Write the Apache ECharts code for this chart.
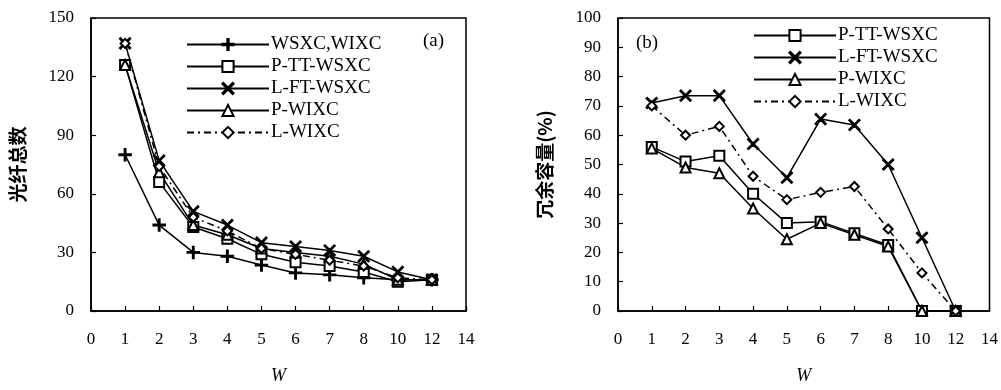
<!DOCTYPE html>
<html><head><meta charset="utf-8">
<script src="https://cdn.jsdelivr.net/npm/echarts@6/dist/echarts.min.js"></script>
<style>html,body{margin:0;padding:0;background:#fff}#c{width:1001px;height:390px}</style>
</head><body><div id="c"></div>
<script>
// ---- data ----
const xLabels = ['0','1','2','3','4','5','6','7','8','10','12','14'];
const wPoints = ['1','2','3','4','5','6','7','8','10','12'];
// panel (a): total number of fibers
const a_WSXC_WIXC = [80, 44, 30, 28, 23.5, 19.5, 18.5, 17, 16, 16];
const a_P_TT_WSXC = [126, 66, 43, 37, 29, 25, 23, 20, 15, 16];
const a_L_FT_WSXC = [137, 77, 51, 44, 35, 33, 31, 28, 20, 16];
const a_P_WIXC    = [126, 71, 44, 39, 32, 30, 28, 24, 16, 16];
const a_L_WIXC    = [137, 74, 48, 41, 32, 29, 26, 23, 17, 16];
// panel (b): redundant capacity (%)
const b_P_TT_WSXC = [56, 51, 53, 40, 30, 30.5, 26.5, 22.5, 0, 0];
const b_L_FT_WSXC = [71, 73.5, 73.5, 57, 45.5, 65.5, 63.5, 50, 25, 0];
const b_P_WIXC    = [55.5, 49, 47, 35, 24.5, 30, 26, 22, 0, 0];
const b_L_WIXC    = [70, 60, 63, 46, 38, 40.5, 42.5, 28, 13, 0];
const yTicksA = [0, 30, 60, 90, 120, 150];
const yTicksB = [0, 10, 20, 30, 40, 50, 60, 70, 80, 90, 100];

const SERIF = '"Liberation Serif","Times New Roman",serif';
const CJK = '"Noto Sans CJK SC",sans-serif';
const PLUS = 'path://M5.3,0 L6.7,0 L6.7,5.3 L12,5.3 L12,6.7 L6.7,6.7 L6.7,12 L5.3,12 L5.3,6.7 L0,6.7 L0,5.3 L5.3,5.3 Z';
const CROSS = 'path://M1,0 L6,5 L11,0 L12,1 L7,6 L12,11 L11,12 L6,7 L1,12 L0,11 L5,6 L0,1 Z';

const styles = {
  'WSXC,WIXC': {symbol: PLUS, size: 12, type: 'solid'},
  'P-TT-WSXC': {symbol: 'emptyRect', size: 10, type: 'solid'},
  'L-FT-WSXC': {symbol: CROSS, size: 11, type: 'solid'},
  'P-WIXC': {symbol: 'emptyTriangle', size: 10, type: 'solid'},
  'L-WIXC': {symbol: 'emptyDiamond', size: 9, type: [7, 4, 2, 4]}
};
function mk(name, vals, gi) {
  const s = styles[name];
  return {
    name, type: 'line', xAxisIndex: gi, yAxisIndex: gi,
    data: wPoints.map((w, i) => [w, vals[i]]),
    symbol: s.symbol, symbolSize: s.size,
    lineStyle: {color: '#000', width: 1.5, type: s.type},
    itemStyle: {color: '#000', borderColor: '#000', borderWidth: 1.5},
    emphasis: {disabled: true}, animation: false, z: 3
  };
}
function xAx(gi) {
  return {
    gridIndex: gi, type: 'category', data: xLabels, boundaryGap: false,
    axisLine: {lineStyle: {color: '#000', width: 1.5}},
    axisTick: {inside: true, length: 5, lineStyle: {color: '#000', width: 1.2}},
    axisLabel: {color: '#000', fontFamily: SERIF, fontSize: 17, margin: 20},
    splitLine: {show: false},
    name: 'W', nameLocation: 'middle', nameGap: 56,
    nameTextStyle: {fontFamily: SERIF, fontStyle: 'italic', fontSize: 18, color: '#000'}
  };
}
function yAx(gi, ticks, name, gap) {
  return {
    gridIndex: gi, type: 'value', min: ticks[0], max: ticks[ticks.length - 1],
    interval: ticks[1] - ticks[0],
    axisLine: {show: true, lineStyle: {color: '#000', width: 1.5}},
    axisTick: {show: true, inside: true, length: 5, lineStyle: {color: '#000', width: 1.2}},
    axisLabel: {color: '#000', fontFamily: SERIF, fontSize: 17, margin: 17},
    splitLine: {show: false},
    name, nameLocation: 'middle', nameRotate: 90, nameGap: gap,
    nameTextStyle: {fontFamily: CJK, fontWeight: 'bold', fontSize: 19, color: '#000'}
  };
}
function legend(left, top, names) {
  return {
    data: names, orient: 'vertical', left, top, padding: 0,
    itemWidth: 82, itemHeight: 14, itemGap: 3,
    textStyle: {fontFamily: SERIF, fontSize: 19, color: '#000', padding: [0, 0, 0, -3]},
    selectedMode: false
  };
}
const chart = echarts.init(document.getElementById('c'), null, {renderer: 'canvas'});
chart.setOption({
  backgroundColor: '#fff',
  animation: false,
  grid: [
    {left: 91, top: 18, width: 375, height: 296, show: true, borderColor: '#000', borderWidth: 1.5, containLabel: false},
    {left: 618, top: 18, width: 372, height: 295, show: true, borderColor: '#000', borderWidth: 1.5, containLabel: false}
  ],
  xAxis: [xAx(0), xAx(1)],
  yAxis: [yAx(0, yTicksA, '光纤总数', 64), yAx(1, yTicksB, '冗余容量(%)', 64)],
  legend: [
    legend(186, 35, ['WSXC,WIXC', 'P-TT-WSXC', 'L-FT-WSXC', 'P-WIXC', 'L-WIXC']),
    legend(753, 26, ['P-TT-WSXC', 'L-FT-WSXC', 'P-WIXC', 'L-WIXC'])
  ],
  graphic: [
    {type: 'text', left: 423, top: 32, style: {text: '(a)', font: '19px ' + SERIF, fill: '#000'}},
    {type: 'text', left: 636, top: 34, style: {text: '(b)', font: '19px ' + SERIF, fill: '#000'}}
  ],
  series: [
    mk('WSXC,WIXC', a_WSXC_WIXC, 0),
    mk('P-TT-WSXC', a_P_TT_WSXC, 0),
    mk('L-FT-WSXC', a_L_FT_WSXC, 0),
    mk('P-WIXC', a_P_WIXC, 0),
    mk('L-WIXC', a_L_WIXC, 0),
    mk('P-TT-WSXC', b_P_TT_WSXC, 1),
    mk('L-FT-WSXC', b_L_FT_WSXC, 1),
    mk('P-WIXC', b_P_WIXC, 1),
    mk('L-WIXC', b_L_WIXC, 1)
  ]
});
</script></body></html>
